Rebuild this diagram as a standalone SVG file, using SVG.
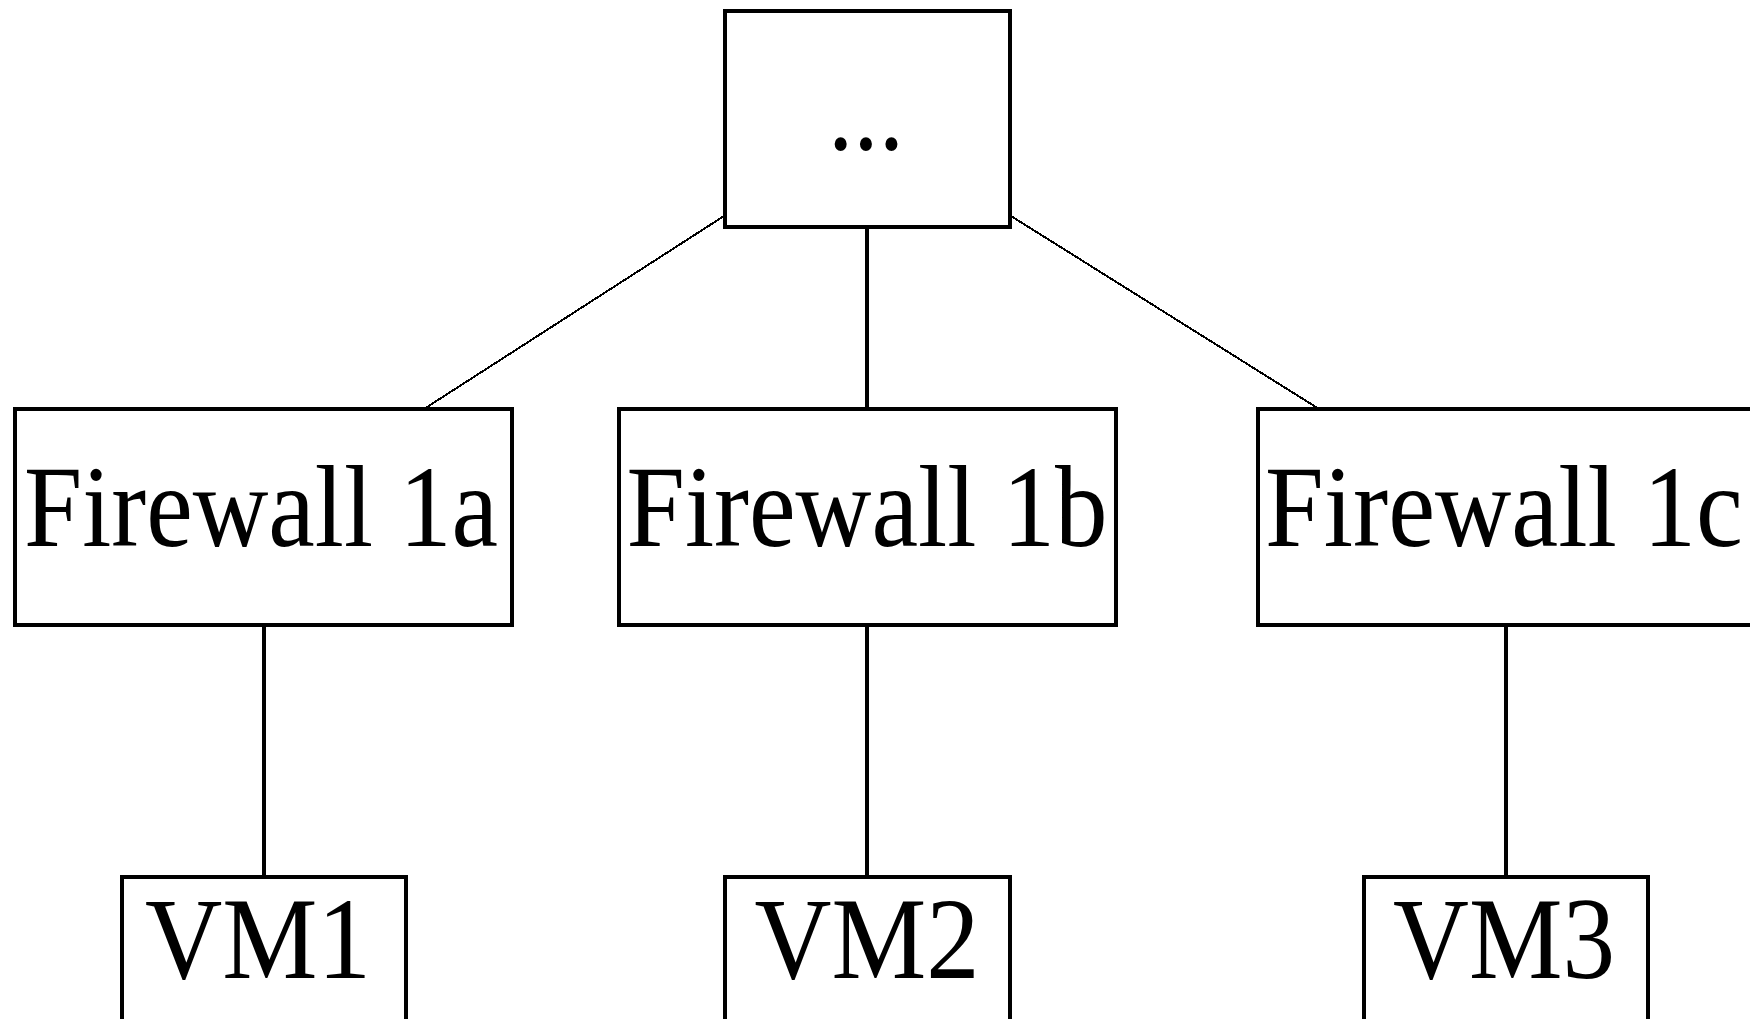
<svg xmlns="http://www.w3.org/2000/svg" width="1750" height="1019" viewBox="0 0 1750 1019">
  <style>
    .box { fill: #fff; stroke: #000; stroke-width: 4; shape-rendering: crispEdges; }
    .lbl { font-family: "Liberation Serif", "Times New Roman", serif; font-size: 116px; fill: #000; text-anchor: middle; }
    .edge { stroke: #000; fill: none; shape-rendering: crispEdges; }
    .tree { stroke-width: 4; }
    .diag { stroke-width: 2; }
  </style>
  <rect width="1750" height="1019" fill="#fff"/>

  <!-- connectors -->
  <g id="connectors">
    <line class="edge diag" x1="724" y1="216" x2="424" y2="409"/>
    <line class="edge tree" x1="867" y1="229" x2="867" y2="409"/>
    <line class="edge diag" x1="1011" y1="216" x2="1319" y2="409"/>
    <line class="edge tree" x1="264" y1="625" x2="264" y2="877"/>
    <line class="edge tree" x1="867" y1="625" x2="867" y2="877"/>
    <line class="edge tree" x1="1506" y1="625" x2="1506" y2="877"/>
  </g>

  <!-- top node -->
  <g id="node-top">
    <rect class="box" x="725" y="11" width="285" height="216"/>
    <text class="lbl" x="866" y="149" textLength="76" lengthAdjust="spacingAndGlyphs">...</text>
  </g>

  <!-- firewalls -->
  <g id="node-fw1a">
    <rect class="box" x="15" y="409" width="497" height="216"/>
    <text class="lbl" x="261" y="546" textLength="474" lengthAdjust="spacingAndGlyphs">Firewall 1a</text>
  </g>
  <g id="node-fw1b">
    <rect class="box" x="619" y="409" width="497" height="216"/>
    <text class="lbl" x="867" y="546" textLength="481" lengthAdjust="spacingAndGlyphs">Firewall 1b</text>
  </g>
  <g id="node-fw1c">
    <rect class="box" x="1258" y="409" width="497" height="216"/>
    <text class="lbl" x="1504" y="546" textLength="478" lengthAdjust="spacingAndGlyphs">Firewall 1c</text>
  </g>

  <!-- virtual machines -->
  <g id="node-vm1">
    <rect class="box" x="122" y="877" width="284" height="200"/>
    <text class="lbl" x="258" y="978" textLength="226" lengthAdjust="spacingAndGlyphs">VM1</text>
  </g>
  <g id="node-vm2">
    <rect class="box" x="725" y="877" width="285" height="200"/>
    <text class="lbl" x="867" y="978" textLength="225" lengthAdjust="spacingAndGlyphs">VM2</text>
  </g>
  <g id="node-vm3">
    <rect class="box" x="1364" y="877" width="284" height="200"/>
    <text class="lbl" x="1504" y="978" textLength="222" lengthAdjust="spacingAndGlyphs">VM3</text>
  </g>
</svg>
